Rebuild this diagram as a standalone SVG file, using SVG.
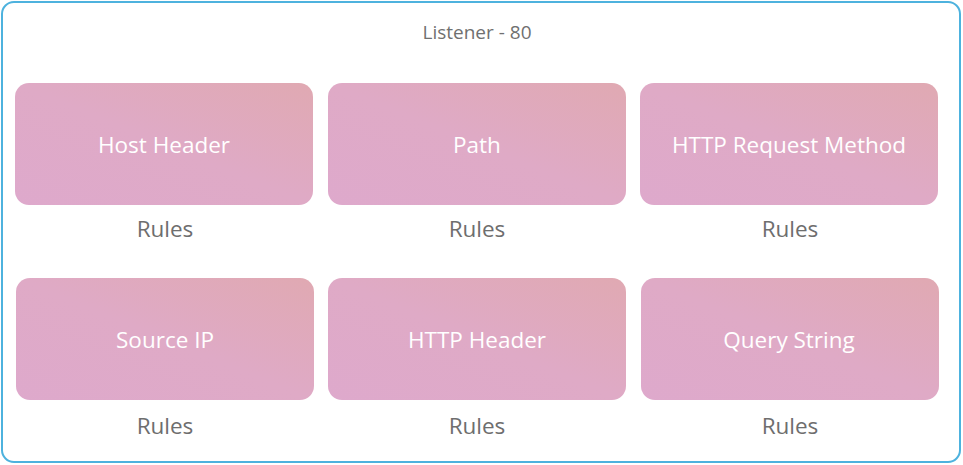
<svg xmlns="http://www.w3.org/2000/svg" width="963" height="465" viewBox="0 0 963 465">
<style>
.box{fill:url(#g)}
.lbl{font-family:"Open Sans","Noto Sans",sans-serif;font-size:22.5px;fill:#ffffff;text-anchor:middle;dominant-baseline:central}
.rule{font-family:"Open Sans","Noto Sans",sans-serif;font-size:22.5px;fill:#6e6e6e;text-anchor:middle;dominant-baseline:central}
.title{font-family:"Open Sans","Noto Sans",sans-serif;font-size:19px;fill:#707070;text-anchor:middle;dominant-baseline:central}
</style>
<defs>
<linearGradient id="g" x1="0" y1="1" x2="1" y2="0">
<stop offset="0" stop-color="#dea9cc"/>
<stop offset="0.5" stop-color="#dfaac6"/>
<stop offset="1" stop-color="#e0a9b2"/>
</linearGradient>
</defs>
<rect width="963" height="465" fill="#ffffff"/>
<g id="listener">
<rect x="2" y="2" width="958" height="460" rx="12" fill="#ffffff" stroke="#4db2de" stroke-width="2"/>
<text class="title" x="477" y="32">Listener - 80</text>
</g>
<g id="host-header"><rect class="box" x="15" y="83" width="298" height="122" rx="14"/><text class="lbl" x="164" y="144">Host Header</text><text class="rule" x="165" y="228">Rules</text></g>
<g id="path"><rect class="box" x="328" y="83" width="298" height="122" rx="14"/><text class="lbl" x="477" y="144">Path</text><text class="rule" x="477" y="228">Rules</text></g>
<g id="http-request-method"><rect class="box" x="640" y="83" width="298" height="122" rx="14"/><text class="lbl" x="789" y="144">HTTP Request Method</text><text class="rule" x="790" y="228">Rules</text></g>
<g id="source-ip"><rect class="box" x="16" y="278" width="298" height="122" rx="14"/><text class="lbl" x="165" y="339">Source IP</text><text class="rule" x="165" y="425">Rules</text></g>
<g id="http-header"><rect class="box" x="328" y="278" width="298" height="122" rx="14"/><text class="lbl" x="477" y="339">HTTP Header</text><text class="rule" x="477" y="425">Rules</text></g>
<g id="query-string"><rect class="box" x="641" y="278" width="298" height="122" rx="14"/><text class="lbl" x="789" y="339">Query String</text><text class="rule" x="790" y="425">Rules</text></g>
<g id="connectors"></g>
</svg>
